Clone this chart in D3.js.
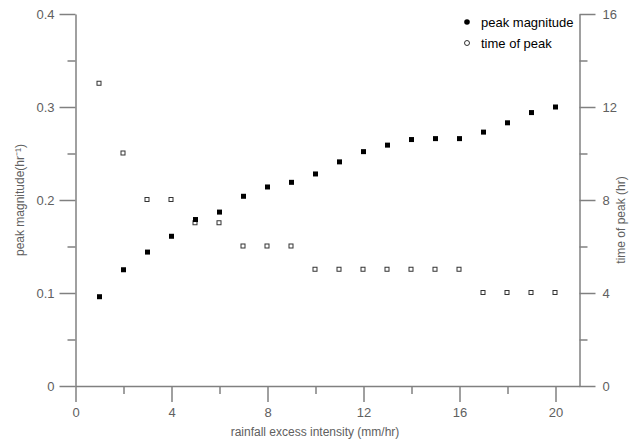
<!DOCTYPE html>
<html>
<head>
<meta charset="utf-8">
<script src="https://cdn.jsdelivr.net/npm/d3@7"></script>
<style>
  body { margin: 0; background: #fff; }
  svg { display: block; font-family: "Liberation Sans", Arial, sans-serif; }
</style>
</head>
<body>
<div id="chart"></div>
<script>
// rainfall excess intensity (mm/hr)
const intensity = [1, 2, 3, 4, 5, 6, 7, 8, 9, 10, 11, 12, 13, 14, 15, 16, 17, 18, 19, 20];
// peak magnitude (hr^-1)
const peakMagnitude = [0.096, 0.125, 0.144, 0.161, 0.179, 0.187, 0.204, 0.214, 0.219, 0.228,
  0.241, 0.252, 0.259, 0.265, 0.266, 0.266, 0.273, 0.283, 0.294, 0.300];
// time of peak (hr)
const timeOfPeak = [13, 10, 8, 8, 7, 7, 6, 6, 6, 5, 5, 5, 5, 5, 5, 5, 4, 4, 4, 4];

const xTicks = [0, 4, 8, 12, 16, 20];
const leftTicks = [0, 0.1, 0.2, 0.3, 0.4];
const rightTicks = [0, 4, 8, 12, 16];

const W = 630, H = 441;
const axisColor = "#808080";
const textColor = "#606060";

const svg = d3.select("#chart").append("svg")
    .attr("width", W)
    .attr("height", H);

const x = d3.scaleLinear().domain([0, 21]).range([75.5, 579.5]);
const yL = d3.scaleLinear().domain([0, 0.4]).range([386, 14]);
const yR = d3.scaleLinear().domain([0, 16]).range([386, 14]);

function styleAxis(g) {
  g.select(".domain").attr("stroke", axisColor).attr("stroke-width", 1.5);
  g.selectAll(".tick line").attr("stroke", axisColor).attr("stroke-width", 1.5);
  g.selectAll(".tick text")
      .attr("fill", textColor)
      .style("font-size", "13px");
}

// minor ticks
svg.append("g")
    .attr("transform", `translate(0,${yL(0)})`)
    .call(d3.axisBottom(x).tickValues(d3.range(2, 21, 4)).tickSize(8).tickFormat(""))
    .call(g => g.select(".domain").remove())
    .call(styleAxis);

svg.append("g")
    .attr("transform", `translate(${x(0)},0)`)
    .call(d3.axisLeft(yL).tickValues([0.05, 0.15, 0.25, 0.35]).tickSize(8).tickFormat(""))
    .call(g => g.select(".domain").remove())
    .call(styleAxis);

svg.append("g")
    .attr("transform", `translate(${x(21)},0)`)
    .call(d3.axisRight(yR).tickValues([2, 6, 10, 14]).tickSize(8).tickFormat(""))
    .call(g => g.select(".domain").remove())
    .call(styleAxis);

// major axes
svg.append("g")
    .attr("transform", `translate(0,${yL(0)})`)
    .call(d3.axisBottom(x).tickValues(xTicks).tickSize(16).tickSizeOuter(0).tickPadding(6).tickFormat(d3.format("d")))
    .call(styleAxis);

svg.append("g")
    .attr("transform", `translate(${x(0)},0)`)
    .call(d3.axisLeft(yL).tickValues(leftTicks).tickSize(16).tickSizeOuter(0).tickPadding(5)
      .tickFormat(d => d === 0 ? "0" : d3.format(".1f")(d)))
    .call(styleAxis);

svg.append("g")
    .attr("transform", `translate(${x(21)},0)`)
    .call(d3.axisRight(yR).tickValues(rightTicks).tickSize(16).tickSizeOuter(0).tickPadding(7).tickFormat(d3.format("d")))
    .call(styleAxis);

// axis titles
svg.append("text")
    .attr("x", 315)
    .attr("y", 436)
    .attr("text-anchor", "middle")
    .attr("fill", textColor)
    .style("font-size", "12px")
    .text("rainfall excess intensity (mm/hr)");

svg.append("text")
    .attr("transform", "translate(24,200) rotate(-90)")
    .attr("text-anchor", "middle")
    .attr("fill", textColor)
    .style("font-size", "12px")
    .text("peak magnitude(hr⁻¹)");

svg.append("text")
    .attr("transform", "translate(625,220) rotate(-90)")
    .attr("text-anchor", "middle")
    .attr("fill", textColor)
    .style("font-size", "12px")
    .text("time of peak (hr)");

// data points
const s = 5;
svg.append("g").selectAll("rect")
    .data(intensity.map((d, i) => ({ x: d, y: timeOfPeak[i] })))
    .join("rect")
    .attr("x", d => x(d.x) - s / 2)
    .attr("y", d => yR(d.y) - s / 2)
    .attr("width", s - 1)
    .attr("height", s - 1)
    .attr("fill", "#fff")
    .attr("stroke", "#333")
    .attr("stroke-width", 1);

svg.append("g").selectAll("rect")
    .data(intensity.map((d, i) => ({ x: d, y: peakMagnitude[i] })))
    .join("rect")
    .attr("x", d => x(d.x) - s / 2)
    .attr("y", d => yL(d.y) - s / 2)
    .attr("width", s)
    .attr("height", s)
    .attr("fill", "#000");

// legend
const legend = svg.append("g").attr("transform", "translate(467,0)");
legend.append("circle").attr("cx", 0).attr("cy", 22).attr("r", 2.8).attr("fill", "#000");
legend.append("circle").attr("cx", 0).attr("cy", 43).attr("r", 2.5)
    .attr("fill", "#fff").attr("stroke", "#000").attr("stroke-width", 0.8);
legend.append("text").attr("x", 14).attr("y", 27).style("font-size", "13px").attr("fill", "#000").text("peak magnitude");
legend.append("text").attr("x", 14).attr("y", 48).style("font-size", "13px").attr("fill", "#000").text("time of peak");
</script>
</body>
</html>
